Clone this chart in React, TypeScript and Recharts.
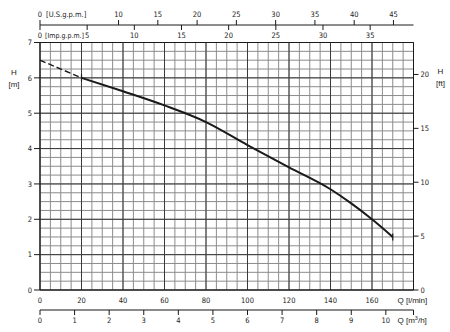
import React from 'react';
import { ComposedChart, Line, XAxis, YAxis, CartesianGrid } from 'recharts';

// pump curve (Q in l/min, H in m)
const dashFlow = [0, 20];
const dashHead = [6.5, 6.0];
const curveFlow = [20, 40, 60, 80, 100, 120, 140, 150, 160, 170];
const curveHead = [6.0, 5.62, 5.22, 4.75, 4.1, 3.47, 2.85, 2.45, 2.0, 1.5];

const lpmTicks = [0, 20, 40, 60, 80, 100, 120, 140, 160];
const m3hTicks = [0, 1, 2, 3, 4, 5, 6, 7, 8, 9, 10, 10.8];
const usTicks = [0, 10, 15, 20, 25, 30, 35, 40, 45];
const impTicks = [0, 5, 10, 15, 20, 25, 30, 35];
const mTicks = [0, 1, 2, 3, 4, 5, 6, 7];
const ftTicks = [0, 5, 10, 15, 20];

const minorFlow = [0, 5, 10, 15, 20, 25, 30, 35, 40, 45, 50, 55, 60, 65, 70, 75, 80, 85, 90, 95, 100, 105, 110, 115, 120, 125, 130, 135, 140, 145, 150, 155, 160, 165, 170, 175, 180];
const minorHead = [0, 0.25, 0.5, 0.75, 1, 1.25, 1.5, 1.75, 2, 2.25, 2.5, 2.75, 3, 3.25, 3.5, 3.75, 4, 4.25, 4.5, 4.75, 5, 5.25, 5.5, 5.75, 6, 6.25, 6.5, 6.75, 7];
const majorFlow = [0, 20, 40, 60, 80, 100, 120, 140, 160, 180];
const majorHead = [0, 1, 2, 3, 4, 5, 6, 7];

const LPM_MAX = 180;
const H_MAX = 7;

const dashData = dashFlow.map((q, i) => ({ q, h: dashHead[i] }));
const curveData = curveFlow.map((q, i) => ({ q, h: curveHead[i] }));

const NUM_FONT = "'Liberation Sans Narrow', 'DejaVu Sans Condensed', 'Liberation Sans', sans-serif";
const TXT_FONT = "'Liberation Sans', Arial, sans-serif";
const INK = '#1a1a1a';

const LpmTick = (props: any) => {
  const { x, y, payload } = props;
  return (
    <text x={x} y={y + 13} textAnchor="middle" fontSize={7.5} fontFamily={NUM_FONT} fill={INK}>
      {payload.value}
    </text>
  );
};

const M3hTick = (props: any) => {
  const { x, y, payload } = props;
  const isEnd = payload.value > 10;
  return (
    <g>
      <line x1={x} x2={x} y1={y} y2={y + 5} stroke={INK} strokeWidth={1} />
      {!isEnd && (
        <text x={x} y={y + 13} textAnchor="middle" fontSize={7.5} fontFamily={NUM_FONT} fill={INK}>
          {payload.value}
        </text>
      )}
    </g>
  );
};

const UsTick = (props: any) => {
  const { x, y, payload } = props;
  return (
    <g>
      <line x1={x} x2={x} y1={y} y2={y - 5} stroke={INK} strokeWidth={1} />
      <text x={x} y={y - 8} textAnchor="middle" fontSize={7.5} fontFamily={NUM_FONT} fill={INK}>
        {payload.value}
      </text>
      {payload.value === 0 && (
        <text x={x + 6} y={y - 8} textAnchor="start" fontSize={7.5} fontFamily={NUM_FONT} fill={INK}>
          [U.S.g.p.m.]
        </text>
      )}
    </g>
  );
};

const ImpTick = (props: any) => {
  const { x, y, payload } = props;
  return (
    <g>
      <line x1={x} x2={x} y1={y - 17.5} y2={y - 12.5} stroke={INK} strokeWidth={1} />
      <text x={x} y={y - 5} textAnchor="middle" fontSize={7.5} fontFamily={NUM_FONT} fill={INK}>
        {payload.value}
      </text>
      {payload.value === 0 && (
        <text x={x + 5} y={y - 5} textAnchor="start" fontSize={7} fontFamily={NUM_FONT} fill={INK}>
          [Imp.g.p.m.]
        </text>
      )}
    </g>
  );
};

const markerDot = (last: number) => (props: any) => {
  const { cx, cy, index } = props;
  if (index !== 0 && index !== last) return <g key={`d-${index}`} />;
  return <line key={`d-${index}`} x1={cx} x2={cx} y1={cy - 3.5} y2={cy + 3.5} stroke={INK} strokeWidth={1.2} />;
};

const leftLabel = (props: any) => {
  const { viewBox } = props;
  const cx = viewBox.x + 14;
  return (
    <g fontSize={8} fontFamily={TXT_FONT} fill={INK}>
      <text x={cx} y={viewBox.y + 32} textAnchor="middle">H</text>
      <text x={cx} y={viewBox.y + 44} textAnchor="middle">[m]</text>
    </g>
  );
};

const rightLabel = (props: any) => {
  const { viewBox } = props;
  const cx = viewBox.x + 27;
  return (
    <g fontSize={8} fontFamily={TXT_FONT} fill={INK}>
      <text x={cx} y={viewBox.y + 31} textAnchor="middle">H</text>
      <text x={cx} y={viewBox.y + 43} textAnchor="middle">[ft]</text>
    </g>
  );
};

const lpmLabel = (props: any) => {
  const { viewBox } = props;
  return (
    <text x={viewBox.x + viewBox.width - 16} y={viewBox.y + 13} fontSize={8} fontFamily={TXT_FONT} fill={INK}>
      Q [l/min]
    </text>
  );
};

const m3hLabel = (props: any) => {
  const { viewBox } = props;
  return (
    <text x={viewBox.x + viewBox.width - 16} y={viewBox.y + 13} fontSize={8} fontFamily={TXT_FONT} fill={INK}>
      Q [m
      <tspan fontSize={5.5} dy={-3}>3</tspan>
      <tspan dy={3}>/h]</tspan>
    </text>
  );
};

export default function App() {
  return (
    <div style={{ position: 'absolute', left: 0, top: 0, background: '#fff' }}>
      <ComposedChart width={450} height={332} data={curveData} margin={{ top: 0, right: 0, bottom: 0, left: 0 }}>
        <CartesianGrid xAxisId="lpm" yAxisId="m" stroke="#8c8c8c" strokeWidth={1}
          verticalValues={minorFlow} horizontalValues={minorHead} />
        <CartesianGrid xAxisId="lpm" yAxisId="m" stroke="#3a3a3a" strokeWidth={1}
          verticalValues={majorFlow} horizontalValues={majorHead} />

        <XAxis xAxisId="imp" orientation="top" type="number" dataKey="q" height={17.5}
          domain={[0, LPM_MAX / 4.54609]} ticks={impTicks} allowDataOverflow
          axisLine={{ stroke: INK }} tickLine={false} tickSize={0} tickMargin={0} tick={ImpTick} interval={0} />
        <XAxis xAxisId="us" orientation="top" type="number" dataKey="q" height={25}
          domain={[0, LPM_MAX / 3.78541]} ticks={usTicks} allowDataOverflow
          axisLine={{ stroke: INK }} tickLine={false} tickSize={0} tickMargin={0} tick={UsTick} interval={0} />

        <XAxis xAxisId="lpm" dataKey="q" type="number" height={20}
          domain={[0, LPM_MAX]} ticks={lpmTicks} allowDataOverflow
          axisLine={{ stroke: INK }} tickLine={false} tickSize={0} tickMargin={0} tick={LpmTick} interval={0}
          label={{ content: lpmLabel }} />
        <XAxis xAxisId="m3h" type="number" dataKey="q" height={22}
          domain={[0, LPM_MAX * 0.06]} ticks={m3hTicks} allowDataOverflow
          axisLine={{ stroke: '#8a8a8a', strokeWidth: 2 }} tickLine={false} tickSize={0} tickMargin={0} tick={M3hTick} interval={0}
          label={{ content: m3hLabel }} />

        <YAxis yAxisId="m" type="number" width={40} domain={[0, H_MAX]} ticks={mTicks} interval={0}
          axisLine={{ stroke: INK }} tickLine={{ stroke: INK }} tickSize={6} tickMargin={2}
          tick={{ fontSize: 7.5, fontFamily: NUM_FONT, fill: INK }} label={{ content: leftLabel }} />
        <YAxis yAxisId="ft" orientation="right" type="number" width={36.5} domain={[0, H_MAX / 0.3048]}
          ticks={ftTicks} interval={0} allowDataOverflow
          axisLine={{ stroke: INK }} tickLine={{ stroke: INK }} tickSize={5} tickMargin={2}
          tick={{ fontSize: 7.5, fontFamily: NUM_FONT, fill: INK }} label={{ content: rightLabel }} />

        <Line xAxisId="lpm" yAxisId="m" data={dashData} dataKey="h" type="linear"
          stroke={INK} strokeWidth={1.4} strokeDasharray="6 3" dot={false} activeDot={false}
          isAnimationActive={false} />
        <Line xAxisId="lpm" yAxisId="m" data={curveData} dataKey="h" type="monotone"
          stroke={INK} strokeWidth={2} dot={markerDot(curveData.length - 1)} activeDot={false}
          isAnimationActive={false} />
      </ComposedChart>
    </div>
  );
}
